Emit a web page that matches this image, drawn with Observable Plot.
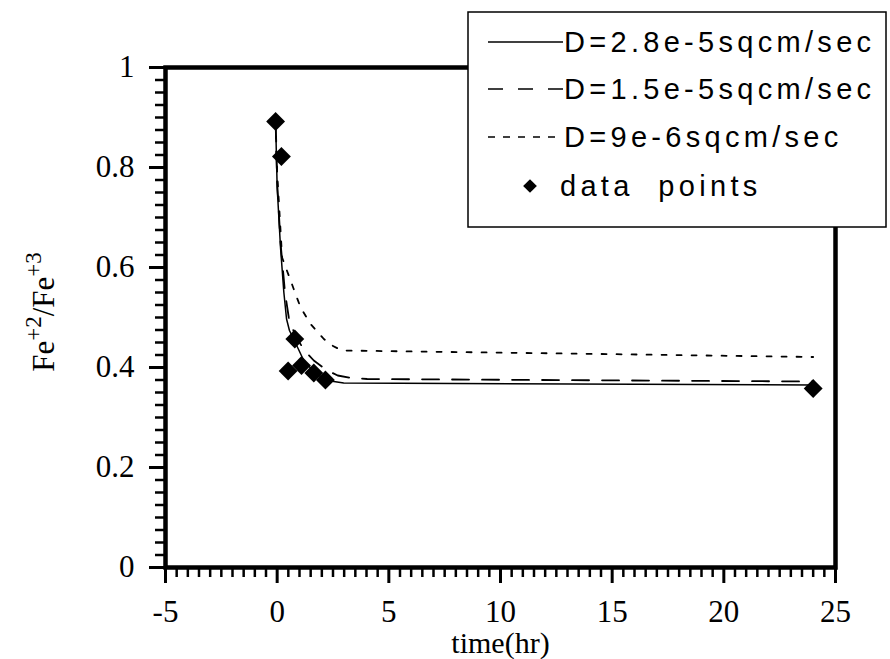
<!DOCTYPE html>
<html>
<head>
<meta charset="utf-8">
<script src="https://cdn.jsdelivr.net/npm/d3@7"></script>
<script src="https://cdn.jsdelivr.net/npm/@observablehq/plot@0.6"></script>
<style>
  html, body { margin: 0; padding: 0; background: white; }
  #chart { position: relative; width: 890px; height: 659px; }
</style>
</head>
<body>
<div id="chart"></div>
<script>
// ---- data ----
const dataTime  = [-0.07, 0.19, 0.49, 0.79, 1.09, 1.64, 2.16, 24];
const dataRatio = [0.892, 0.822, 0.393, 0.457, 0.404, 0.389, 0.375, 0.358];

const solidTime  = [-0.07, 0, 0.15, 0.3, 0.42, 0.55, 0.79, 1.19, 1.7, 2.24, 2.98, 24];
const solidRatio = [0.892, 0.76, 0.64, 0.55, 0.497, 0.474, 0.452, 0.414, 0.389, 0.374, 0.369, 0.365];

const longTime  = [-0.07, 0, 0.15, 0.35, 0.52, 0.8, 1.2, 1.64, 2.2, 2.71, 3.3, 4.03, 24];
const longRatio = [0.892, 0.77, 0.65, 0.55, 0.50, 0.465, 0.435, 0.414, 0.395, 0.384, 0.379, 0.377, 0.372];

const shortTime  = [-0.07, 0, 0.22, 0.6, 1.04, 1.49, 2.09, 2.5, 2.9, 14.5, 24];
const shortRatio = [0.892, 0.79, 0.62, 0.574, 0.521, 0.487, 0.457, 0.443, 0.434, 0.427, 0.421];

const legendLabels = ["D=2.8e-5sqcm/sec", "D=1.5e-5sqcm/sec", "D=9e-6sqcm/sec", "data  points"];

const xMajor = [-5, 0, 5, 10, 15, 20, 25];
const yMajor = [0, 0.2, 0.4, 0.6, 0.8, 1];
const xTickLabels = ["-5", "0", "5", "10", "15", "20", "25"];
const yTickLabels = ["0", "0.2", "0.4", "0.6", "0.8", "1"];
const xMinor = d3.range(-5, 25.001, 0.5).filter(v => Math.abs(v % 5) > 1e-9);
const yMinor = d3.range(0, 1.0001, 0.025).filter(v => Math.abs((v * 1000) % 200) > 1e-6 && Math.abs((v * 1000) % 200 - 200) > 1e-6);

const pts = (t, r) => t.map((v, i) => ({t: v, r: r[i]}));
const solid = pts(solidTime, solidRatio);
const longD = pts(longTime, longRatio);
const shortD = pts(shortTime, shortRatio);
const obs = pts(dataTime, dataRatio);

const serif = "Liberation Serif";

const plot = Plot.plot({
  width: 890,
  height: 659,
  marginLeft: 165,
  marginRight: 55,
  marginTop: 67,
  marginBottom: 92,
  x: {domain: [-5, 25]},
  y: {domain: [0, 1]},
  style: {fontFamily: serif, fontSize: "29px", color: "black", background: "white", overflow: "visible"},
  marks: [
    Plot.axisX(xMinor, {tickSize: 10, strokeWidth: 2.5, tickFormat: () => "", label: null}),
    Plot.axisY(yMinor, {tickSize: 10, strokeWidth: 2.5, tickFormat: () => "", label: null}),
    Plot.axisX(xMajor, {tickSize: 16, strokeWidth: 3, tickFormat: () => "", label: null}),
    Plot.axisY(yMajor, {tickSize: 16, strokeWidth: 3, tickFormat: () => "", label: null}),
    Plot.text(xMajor, {x: d => d, frameAnchor: "bottom", dy: 45, lineAnchor: "middle", text: (d, i) => xTickLabels[i], fontFamily: serif, fontSize: 31}),
    Plot.text(yMajor, {y: d => d, frameAnchor: "left", dx: -31, textAnchor: "end", lineAnchor: "middle", text: (d, i) => yTickLabels[i], fontFamily: serif, fontSize: 31}),
    Plot.line(shortD, {x: "t", y: "r", stroke: "black", strokeWidth: 1.8, strokeDasharray: "5,10"}),
    Plot.line(longD, {x: "t", y: "r", stroke: "black", strokeWidth: 1.8, strokeDasharray: "17,13"}),
    Plot.line(solid, {x: "t", y: "r", stroke: "black", strokeWidth: 1.5}),
    Plot.dot(obs, {x: "t", y: "r", symbol: "diamond2", r: 8.5, fill: "black", stroke: "none"}),
    Plot.frame({stroke: "black", strokeWidth: 4.5}),
    Plot.text(["time(hr)"], {frameAnchor: "bottom", dy: 76, lineAnchor: "middle", text: d => d, fontFamily: serif, fontSize: 30})
  ]
});

document.getElementById("chart").appendChild(plot);

const svg = d3.select(plot);

// y-axis label with superscripts
const yl = svg.append("text")
  .attr("transform", "translate(54,312) rotate(-90)")
  .attr("text-anchor", "middle")
  .attr("font-family", serif)
  .attr("font-size", 31)
  .attr("fill", "black");
yl.append("tspan").text("Fe");
yl.append("tspan").attr("dy", -13).attr("font-size", 23).text("+2");
yl.append("tspan").attr("dy", 13).text("/Fe");
yl.append("tspan").attr("dy", -13).attr("font-size", 23).text("+3");

// legend box drawn over the frame
const lg = svg.append("g").attr("text-anchor", "start");
lg.append("rect").attr("x", 468).attr("y", 12).attr("width", 418).attr("height", 215)
  .attr("fill", "white").attr("stroke", "black").attr("stroke-width", 1.5);
const rowsY = [42, 89, 137, 186];
const dashes = [null, "15,15", "7,8"];
for (let i = 0; i < 3; i++) {
  lg.append("line").attr("x1", 488).attr("x2", 563).attr("y1", rowsY[i]).attr("y2", rowsY[i])
    .attr("stroke", "black").attr("stroke-width", 1.5)
    .attr("stroke-dasharray", dashes[i]);
}
lg.append("path")
  .attr("d", d3.symbol(d3.symbolDiamond2, 120)())
  .attr("transform", `translate(530,${rowsY[3]})`)
  .attr("fill", "black");
legendLabels.forEach((s, i) => {
  lg.append("text")
    .attr("x", i === 3 ? 560 : 564)
    .attr("y", rowsY[i])
    .attr("dy", "0.36em")
    .attr("text-anchor", "start")
    .attr("font-family", "Liberation Sans")
    .attr("font-size", 29)
    .attr("letter-spacing", "4.3px")
    .style("white-space", "pre")
    .attr("fill", "black")
    .text(s);
});
</script>
</body>
</html>
